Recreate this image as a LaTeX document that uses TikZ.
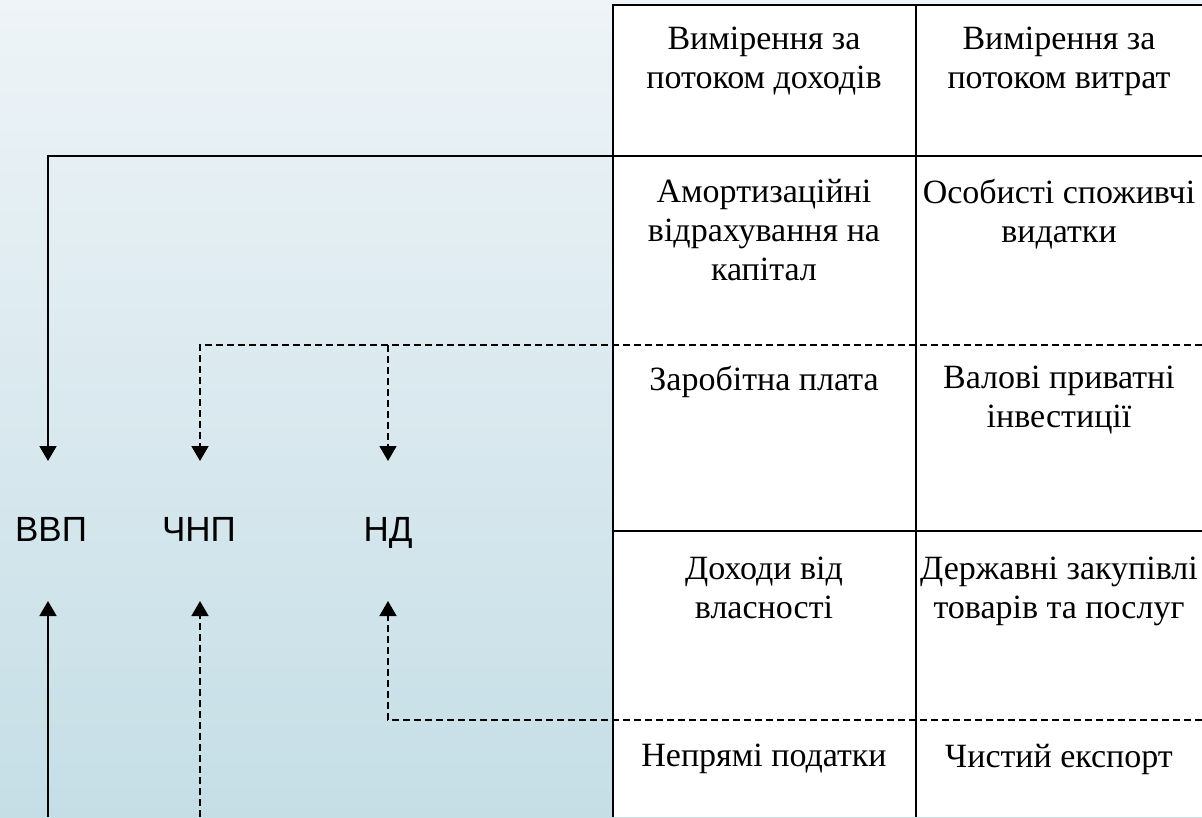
\documentclass[tikz,border=0pt]{standalone}
\usepackage{fontspec}
\setmainfont{Liberation Serif}
\newfontfamily\labfont{Liberation Sans}
\usetikzlibrary{arrows.meta}
\definecolor{bgtop}{HTML}{EEF4F7}
\definecolor{bgbot}{HTML}{C5DEE6}
\begin{document}
\begin{tikzpicture}[x=1pt,y=-1pt, line width=1.6pt,
  conn/.style={-{Triangle[width=17pt,length=15pt]}},
  dconn/.style={conn, dash pattern=on 7pt off 4pt},
  cell/.style={font=\fontsize{34}{39}\selectfont, align=center, anchor=north, inner sep=0pt},
  lab/.style={font=\labfont\fontsize{35}{40}\selectfont, anchor=base, inner sep=0pt}]
\useasboundingbox (0,0) rectangle (1202,817);
\shade[top color=bgtop, bottom color=bgbot] (0,0) rectangle (1202,817);
\fill[white] (613,5) rectangle (1202,817);

% table frame
\coordinate (tl) at (613,5);
\coordinate (tr) at (1202,5);
\coordinate (bl) at (613,817);
\coordinate (cm) at (916,5);
\coordinate (cb) at (916,817);
\draw (bl) -- (tl) -- (tr);
\draw (cm) -- (cb);
\coordinate (r4l) at (613,531);
\coordinate (r4r) at (1202,531);
\draw (r4l) -- (r4r);

% cells
\node[cell] (c11) at (764,26) {Вимірення за\\потоком доходів};
\node[cell] (c12) at (1059,26) {Вимірення за\\потоком витрат};
\node[cell] (c21) at (764,178) {Амортизаційні\\відрахування на\\капітал};
\node[cell] (c22) at (1059,178) {Особисті споживчі\\видатки};
\node[cell] (c31) at (764,365) {Заробітна плата};
\node[cell] (c32) at (1059,365) {Валові приватні\\інвестиції};
\node[cell] (c41) at (764,556) {Доходи від\\власності};
\node[cell] (c42) at (1059,556) {Державні закупівлі\\товарів та послуг};
\node[cell] (c51) at (764,743) {Непрямі податки};
\node[cell] (c52) at (1059,743) {Чистий експорт};

% labels
\node[lab] (gdp) at (51,541) {ВВП};
\node[lab] (nnp) at (199,541) {ЧНП};
\node[lab] (ni) at (388,541) {НД};

% connector coordinates
\coordinate (gdpIn) at (48,461);
\coordinate (nnpIn) at (200,461);
\coordinate (niIn) at (388,461);
\coordinate (gdpOut) at (48,601);
\coordinate (nnpOut) at (200,601);
\coordinate (niOut) at (388,601);
\coordinate (s1) at (1202,156);
\coordinate (s2) at (1202,345);
\coordinate (j2) at (388,345);
\coordinate (s4) at (1202,720);
\coordinate (b1) at (48,817);
\coordinate (b2) at (200,817);

\draw[conn] (s1) -| (gdpIn);
\draw[dconn] (s2) -| (nnpIn);
\draw[dconn] (j2) -- (niIn);
\draw[dconn] (s4) -| (niOut);
\draw[conn] (b1) -- (gdpOut);
\draw[dconn] (b2) -- (nnpOut);
\end{tikzpicture}
\end{document}
